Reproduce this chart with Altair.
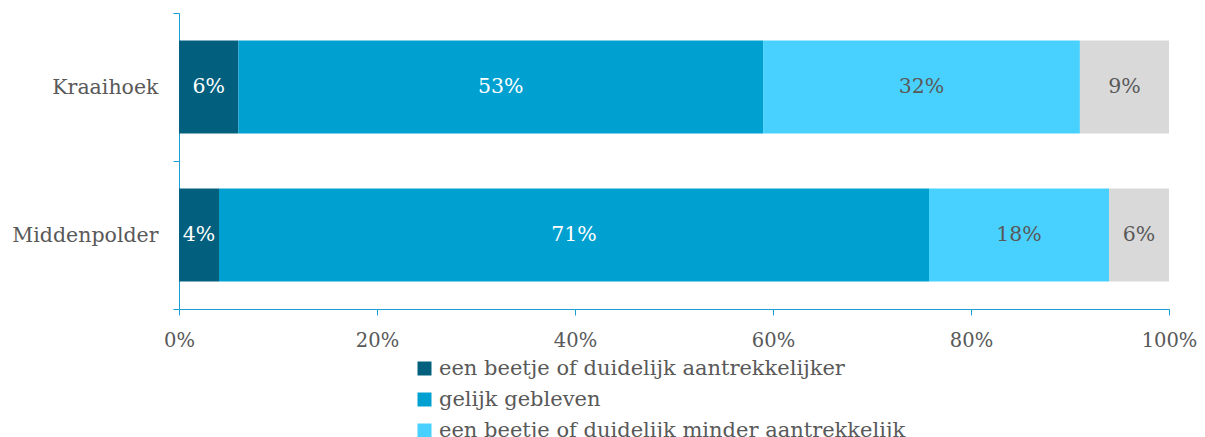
import altair as alt
import pandas as pd

categories = ["Kraaihoek", "Middenpolder"]
series = [
    "een beetje of duidelijk aantrekkelijker",
    "gelijk gebleven",
    "een beetje of duidelijk minder aantrekkelijk",
    "weet niet",
]
values = {
    "Kraaihoek": [6, 53, 32, 9],
    "Middenpolder": [4, 71, 18, 6],
}
colors = ["#02607e", "#00a1d1", "#48d1ff", "#d9d9d9"]
text_colors = ["#ffffff", "#ffffff", "#595959", "#595959"]
x_ticks = [0, 0.2, 0.4, 0.6, 0.8, 1.0]

rows = []
for c in categories:
    for i, s in enumerate(series):
        rows.append({"cat": c, "serie": s, "order": i, "value": values[c][i],
                     "label": f"{values[c][i]}%", "tcolor": text_colors[i]})
df = pd.DataFrame(rows)

FONT = "DejaVu Serif"
AX = "#1a9fd4"

base = alt.Chart(df).transform_stack(
    stack="value", groupby=["cat"], sort=[alt.SortField("order")],
    offset="normalize", as_=["x0", "x1"]
).transform_calculate(xm="(datum.x0 + datum.x1) / 2")

yenc = alt.Y("cat:N", sort=categories, title=None,
             scale=alt.Scale(paddingInner=0, paddingOuter=0),
             axis=alt.Axis(tickBand="extent", domainColor=AX, tickColor=AX,
                           tickSize=6, labelPadding=15, labelFont=FONT,
                           labelFontSize=20.5, labelColor="#595959"))

bars = base.mark_bar(size=93).encode(
    x=alt.X("x0:Q", title=None, scale=alt.Scale(domain=[0, 1]),
            axis=alt.Axis(values=x_ticks, format=".0%", grid=False,
                          domainColor=AX, tickColor=AX, tickSize=6,
                          labelPadding=16, labelFont=FONT, labelFontSize=19.5,
                          labelColor="#595959", labelFlush=False)),
    x2="x1:Q",
    y=yenc,
    color=alt.Color("serie:N", sort=series,
                    scale=alt.Scale(domain=series, range=colors),
                    legend=alt.Legend(values=series[:3], title=None, orient="none",
                                      legendX=235, legendY=345, direction="vertical",
                                      symbolType="square", symbolSize=196,
                                      symbolStrokeWidth=0, labelFont=FONT,
                                      labelFontSize=21, labelColor="#595959",
                                      rowPadding=9, labelLimit=700)),
)

texts = base.mark_text(font=FONT, fontSize=20.5).encode(
    x="xm:Q",
    y=alt.Y("cat:N", sort=categories),
    text="label:N",
    color=alt.Color("tcolor:N", scale=None),
)

chart = (bars + texts).properties(
    width=990, height=296,
    autosize=alt.AutoSizeParams(type="none"),
    padding={"top": 5, "left": 171, "right": 28, "bottom": 140},
).configure_view(stroke=None)

chart.save("out.html", embed_options={"renderer": "svg", "actions": False})
